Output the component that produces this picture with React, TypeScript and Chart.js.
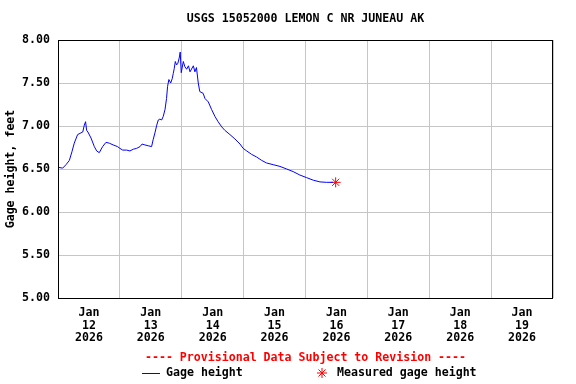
import { useEffect, useRef } from 'react';
import { Chart, registerables } from 'chart.js';

Chart.register(...registerables);

const TITLE = 'USGS 15052000 LEMON C NR JUNEAU AK';
const Y_LABEL = 'Gage height, feet';
const PROVISIONAL = '---- Provisional Data Subject to Revision ----';
const SERIES_NAME = 'Gage height';
const MEASURED_NAME = 'Measured gage height';
const MONTH = 'Jan';
const YEAR = '2026';
const DAY_LABELS = ['12', '13', '14', '15', '16', '17', '18', '19'];
const X_MAX_HOURS = 192; // Jan 12 00:00 .. Jan 20 00:00
const Y_MIN = 5;
const Y_MAX = 8;
const Y_STEP = 0.5;

// hours since Jan 12 2026 00:00
const hours = [
  0.0, 1.8, 3.1, 4.4, 5.4, 6.3, 7.6, 8.9, 9.6, 10.2, 10.7, 11.1, 11.6, 12.8, 14.1, 15.0, 16.0,
  17.3, 18.6, 19.9, 21.4, 23.1, 24.0, 25.1, 26.6, 27.9, 29.2, 30.5, 31.8, 32.6, 33.7, 35.0,
  36.3, 36.9, 37.6, 38.3, 38.9, 39.5, 40.2, 40.8, 41.5, 42.1, 42.5, 43.0, 43.7, 44.3, 44.7,
  45.1, 45.5, 46.0, 46.5, 47.0, 47.4, 47.8, 48.6, 49.2, 49.9, 50.6, 51.2, 52.5, 53.1, 53.7,
  54.4, 55.0, 56.3, 57.0, 58.3, 59.6, 60.9, 62.1, 63.5, 64.7, 66.7, 68.6, 70.6, 71.8, 73.2,
  75.1, 77.0, 79.0, 80.9, 83.5, 86.1, 88.7, 91.2, 93.8, 96.4, 99.0, 101.6, 104.2, 106.6,
];
const gageHeight = [
  6.52, 6.51, 6.55, 6.60, 6.70, 6.80, 6.90, 6.92, 6.93, 7.01, 7.05, 6.95, 6.93, 6.86, 6.76, 6.71, 6.69,
  6.76, 6.81, 6.80, 6.78, 6.76, 6.74, 6.72, 6.72, 6.71, 6.73, 6.74, 6.76, 6.79, 6.78, 6.77,
  6.76, 6.84, 6.92, 7.01, 7.07, 7.08, 7.07, 7.11, 7.19, 7.32, 7.46, 7.54, 7.50, 7.55, 7.61,
  7.67, 7.75, 7.71, 7.73, 7.79, 7.86, 7.62, 7.75, 7.69, 7.66, 7.70, 7.63, 7.70, 7.63, 7.68,
  7.50, 7.40, 7.38, 7.32, 7.28, 7.19, 7.11, 7.05, 6.99, 6.95, 6.90, 6.85, 6.79, 6.74, 6.71,
  6.67, 6.64, 6.60, 6.57, 6.55, 6.53, 6.50, 6.47, 6.43, 6.40, 6.37, 6.35, 6.345, 6.345,
];
const measuredHours = [107.7];
const measuredHeight = [6.345];

const FONT_FAMILY = '"DejaVu Sans Mono", "Liberation Mono", monospace';
const FONT_SIZE = 11.6;
const GRID = '#c6c6c6';

function drawStar(ctx: CanvasRenderingContext2D, x: number, y: number, r: number) {
  ctx.beginPath();
  for (let i = 0; i < 4; i++) {
    const a = (i * Math.PI) / 4;
    ctx.moveTo(x - Math.cos(a) * r, y - Math.sin(a) * r);
    ctx.lineTo(x + Math.cos(a) * r, y + Math.sin(a) * r);
  }
  ctx.stroke();
}

const decorPlugin = {
  id: 'decor',
  afterDraw(chart: any) {
    const { ctx, chartArea } = chart;
    const cx = (chartArea.left + chartArea.right) / 2;
    ctx.save();
    // frame
    ctx.strokeStyle = '#000';
    ctx.lineWidth = 1;
    ctx.strokeRect(chartArea.left + 0.5, chartArea.top + 0.5, chartArea.right - chartArea.left - 1, chartArea.bottom - chartArea.top);
    ctx.font = `bold ${FONT_SIZE}px ${FONT_FAMILY}`;
    ctx.textBaseline = 'middle';
    // title
    ctx.fillStyle = '#000';
    ctx.textAlign = 'center';
    ctx.fillText(TITLE, cx, 19);
    // provisional
    ctx.fillStyle = '#ff0000';
    ctx.fillText(PROVISIONAL, cx, 358);
    // legend
    ctx.textAlign = 'left';
    ctx.strokeStyle = '#0000ff';
    ctx.beginPath();
    ctx.moveTo(142, 373.5);
    ctx.lineTo(160, 373.5);
    ctx.stroke();
    ctx.fillStyle = '#000';
    ctx.fillText(SERIES_NAME, 166, 373);
    ctx.strokeStyle = '#ff0000';
    drawStar(ctx, 322, 373, 5);
    ctx.fillStyle = '#000';
    ctx.fillText(MEASURED_NAME, 337, 373);
    ctx.restore();
  },
};

export default function App() {
  const ref = useRef<HTMLCanvasElement>(null);
  useEffect(() => {
    if (!ref.current) return;
    const font = { family: FONT_FAMILY, size: FONT_SIZE, weight: 'bold' as const };
    const chart = new Chart(ref.current, {
      type: 'line',
      data: {
        datasets: [
          {
            label: SERIES_NAME,
            data: hours.map((h, i) => ({ x: h, y: gageHeight[i] })),
            borderColor: '#0000ff',
            borderWidth: 1,
            pointRadius: 0,
            tension: 0,
            fill: false,
          },
          {
            label: MEASURED_NAME,
            data: measuredHours.map((h, i) => ({ x: h, y: measuredHeight[i] })),
            showLine: false,
            pointStyle: 'star',
            pointRadius: 5,
            borderColor: '#ff0000',
            backgroundColor: '#ff0000',
            borderWidth: 1,
          },
        ],
      },
      options: {
        animation: false,
        responsive: false,
        devicePixelRatio: 1,
        layout: { padding: { top: 40, right: 23, left: 0, bottom: 0 } },
        plugins: { legend: { display: false }, tooltip: { enabled: false }, title: { display: false } },
        scales: {
          x: {
            type: 'linear',
            min: 0,
            max: X_MAX_HOURS,
            border: { display: false },
            grid: {
              drawTicks: false,
              color: (c: any) => (c.tick && c.tick.value % 24 === 0 ? GRID : 'rgba(0,0,0,0)'),
            },
            ticks: {
              stepSize: 12,
              autoSkip: false,
              maxRotation: 0,
              padding: 8,
              color: '#000',
              font: { ...font, lineHeight: 1.12 },
              callback: (v: any) => {
                const n = Number(v);
                if (n % 24 !== 12) return '';
                const d = DAY_LABELS[Math.floor(n / 24)];
                return d ? [MONTH, d, YEAR] : '';
              },
            },
            afterFit: (s: any) => {
              s.height = 86;
            },
          },
          y: {
            min: Y_MIN,
            max: Y_MAX,
            border: { display: false },
            grid: { drawTicks: false, color: GRID },
            ticks: {
              stepSize: Y_STEP,
              padding: 8,
              color: '#000',
              font,
              callback: (v: any) => Number(v).toFixed(2),
            },
            title: { display: true, text: Y_LABEL, color: '#000', font },
            afterFit: (s: any) => {
              s.width = 58;
            },
          },
        },
      },
      plugins: [decorPlugin],
    });
    return () => chart.destroy();
  }, []);
  return (
    <div style={{ position: 'fixed', left: 0, top: 0, width: 576, height: 384, background: '#fff' }}>
      <canvas ref={ref} width={576} height={384} />
    </div>
  );
}
